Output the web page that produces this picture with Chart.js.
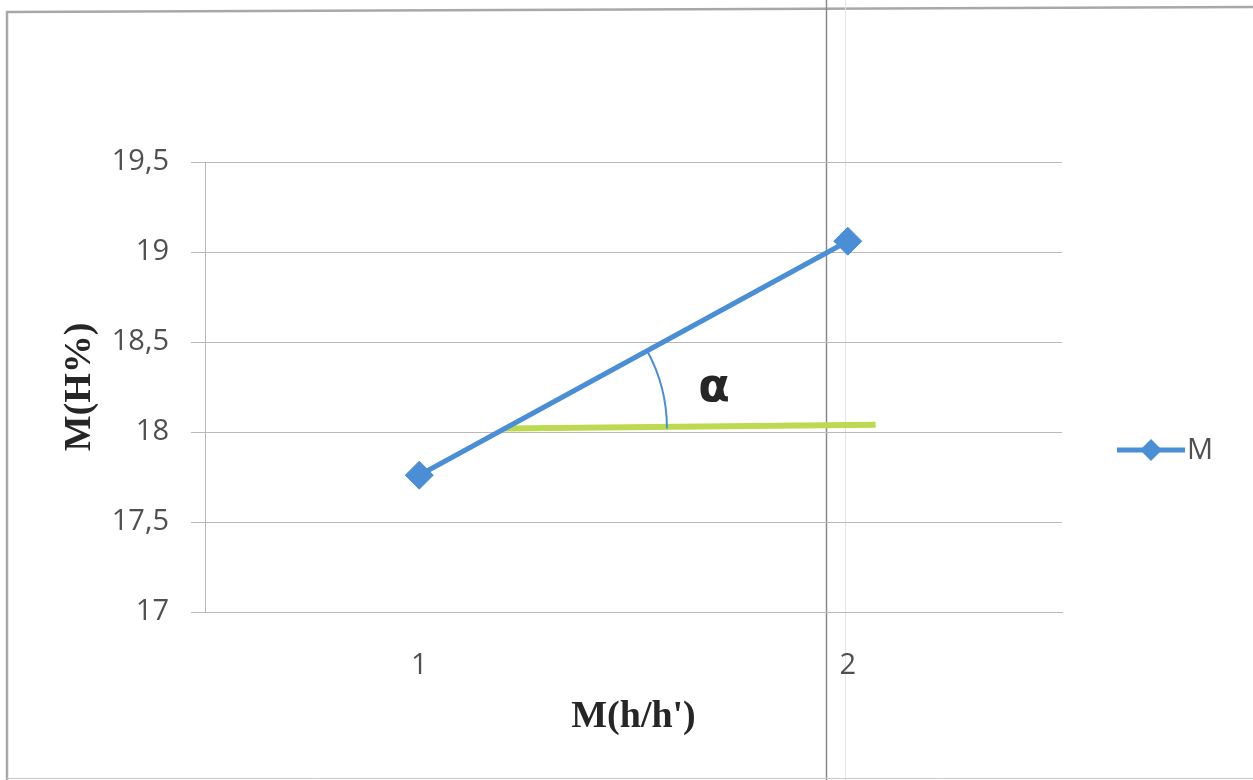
<!DOCTYPE html>
<html>
<head>
<meta charset="utf-8">
<script src="https://cdn.jsdelivr.net/npm/chart.js@4.4.1/dist/chart.umd.min.js"></script>
<style>
  html, body { margin: 0; padding: 0; background: #ffffff; }
  #wrap { position: relative; width: 1253px; height: 780px; }
</style>
</head>
<body>
<div id="wrap"><canvas id="chart" width="1253" height="780"></canvas></div>
<script>
// Category positions and the mean values measured at each of them
const categories = [1, 2];
const seriesM = [17.76, 19.06];
// Horizontal reference segment used to mark the angle of the line
const refX = [1.2, 2.065];
const refY = [18.02, 18.04];
// Value axis ticks
const yTicks = [17, 17.5, 18, 18.5, 19, 19.5];

const BLUE = '#4a8fd6';
const GREEN = '#bcd94f';
const GRID = '#b9b9b9';
const TICK_TEXT = '#505050';

// Legend marker: a short line with a diamond on it
function legendMarker() {
  const c = document.createElement('canvas');
  c.width = 72; c.height = 30;
  const g = c.getContext('2d');
  g.strokeStyle = BLUE; g.lineWidth = 5;
  g.beginPath(); g.moveTo(2, 15); g.lineTo(70, 15); g.stroke();
  g.fillStyle = BLUE;
  g.beginPath(); g.moveTo(36 - 11, 15); g.lineTo(36, 4); g.lineTo(36 + 11, 15); g.lineTo(36, 26); g.closePath(); g.fill();
  return c;
}

// Page frame lines around the figure
const framePlugin = {
  id: 'frame',
  beforeDraw(chart) {
    const ctx = chart.ctx;
    ctx.save();
    ctx.strokeStyle = '#a8a8a8';
    ctx.lineWidth = 2.5;
    ctx.beginPath();
    ctx.moveTo(7, 780); ctx.lineTo(7, 12); ctx.lineTo(1253, 7);
    ctx.stroke();
    ctx.strokeStyle = '#8a8a8a';
    ctx.lineWidth = 1.5;
    ctx.beginPath(); ctx.moveTo(826.5, 0); ctx.lineTo(826.5, 780); ctx.stroke();
    ctx.strokeStyle = '#e4e4e4';
    ctx.lineWidth = 1;
    ctx.beginPath(); ctx.moveTo(845.5, 0); ctx.lineTo(845.5, 780); ctx.stroke();
    ctx.strokeStyle = '#c8c8c8';
    ctx.beginPath(); ctx.moveTo(7, 778.5); ctx.lineTo(1253, 778.5); ctx.stroke();
    ctx.restore();
  }
};

// Angle arc between the trend line and the horizontal segment, plus its label
const anglePlugin = {
  id: 'angleMark',
  afterDatasetsDraw(chart) {
    const xs = chart.scales.x, ys = chart.scales.y;
    const ax = xs.getPixelForValue(categories[0]), ay = ys.getPixelForValue(seriesM[0]);
    const bx = xs.getPixelForValue(categories[1]), by = ys.getPixelForValue(seriesM[1]);
    const cx = xs.getPixelForValue(refX[0]);
    const cy = ay + (by - ay) * (cx - ax) / (bx - ax);
    const ang = Math.atan2(by - ay, bx - ax);
    const r = 162;
    const ctx = chart.ctx;
    ctx.save();
    ctx.strokeStyle = BLUE;
    ctx.lineWidth = 2;
    ctx.beginPath();
    ctx.arc(cx, cy, r, ang, 0.0);
    ctx.stroke();
    ctx.fillStyle = '#262626';
    ctx.font = 'bold 46px "DejaVu Sans", sans-serif';
    ctx.textAlign = 'center';
    ctx.textBaseline = 'middle';
    ctx.fillText('\u03b1', cx + 209, cy - 39);
    ctx.restore();
  }
};

// Legend drawn at the right of the plot
const legendPlugin = {
  id: 'sideLegend',
  afterDraw(chart) {
    const ctx = chart.ctx;
    const area = chart.chartArea;
    const y = (area.top + area.bottom) / 2 + 63;
    const x = area.right + 53;
    ctx.save();
    ctx.drawImage(marker, x, y - 15);
    ctx.fillStyle = TICK_TEXT;
    ctx.font = '29px "Open Sans", sans-serif';
    ctx.textBaseline = 'middle';
    ctx.textAlign = 'left';
    ctx.fillText(chart.data.datasets[0].label, x + 72, y + 1);
    ctx.restore();
  }
};

const marker = legendMarker();

new Chart(document.getElementById('chart'), {
  type: 'line',
  data: {
    datasets: [
      {
        label: 'M',
        data: categories.map((c, i) => ({ x: c, y: seriesM[i] })),
        borderColor: BLUE,
        backgroundColor: BLUE,
        borderWidth: 5,
        pointStyle: 'rectRot',
        pointRadius: 14,
        pointBorderWidth: 1,
        pointBackgroundColor: BLUE,
        pointBorderColor: BLUE,
        tension: 0,
        order: 1
      },
      {
        label: 'ref',
        data: refX.map((x, i) => ({ x, y: refY[i] })),
        borderColor: GREEN,
        borderWidth: 6,
        pointRadius: 0,
        tension: 0,
        order: 2
      }
    ]
  },
  options: {
    responsive: false,
    animation: false,
    layout: { padding: { top: 162, right: 191, left: 0, bottom: 0 } },
    plugins: {
      legend: { display: false },
      tooltip: { enabled: false }
    },
    scales: {
      x: {
        type: 'linear',
        min: 0.5,
        max: 2.5,
        afterBuildTicks(scale) { scale.ticks = categories.map(v => ({ value: v })); },
        afterFit(scale) { scale.height = 168; },
        grid: { display: false },
        border: { display: true, color: GRID, width: 1 },
        ticks: {
          color: TICK_TEXT,
          padding: 28,
          font: { family: '"Open Sans", sans-serif', size: 29 }
        },
        title: {
          display: true,
          text: "M(h/h')",
          color: '#262626',
          font: { family: '"Liberation Serif", serif', size: 38, weight: 'bold' },
          padding: { top: 0, bottom: 40 }
        }
      },
      y: {
        min: yTicks[0],
        max: yTicks[yTicks.length - 1],
        afterBuildTicks(scale) { scale.ticks = yTicks.map(v => ({ value: v })); },
        afterFit(scale) { scale.width = 205; },
        grid: { color: GRID, lineWidth: 1, tickLength: 14 },
        border: { display: true, color: GRID, width: 1 },
        ticks: {
          color: TICK_TEXT,
          padding: 22,
          font: { family: '"Open Sans", sans-serif', size: 29 },
          callback: v => String(v).replace('.', ',')
        },
        title: {
          display: true,
          text: 'M(H%)',
          color: '#262626',
          font: { family: '"Liberation Serif", serif', size: 38, weight: 'bold' },
          padding: { top: 57, bottom: 0 }
        }
      }
    }
  },
  plugins: [framePlugin, anglePlugin, legendPlugin]
});
</script>
</body>
</html>
